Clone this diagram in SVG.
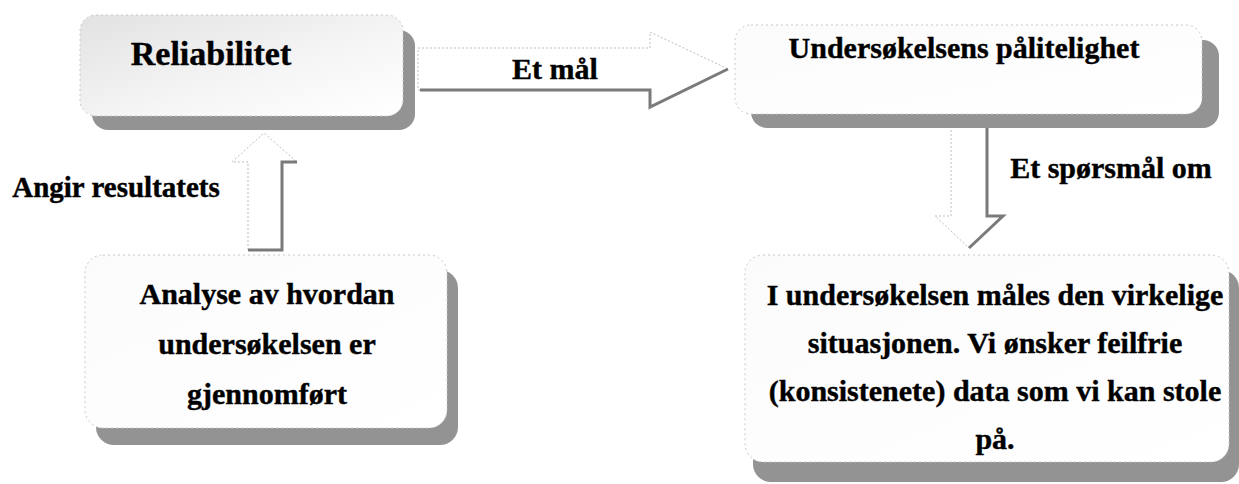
<svg xmlns="http://www.w3.org/2000/svg" width="1239" height="484" viewBox="0 0 1239 484">
<style>
  .t { font-family: "Liberation Serif", "Times New Roman", serif; font-weight: bold; fill: #000; stroke: #000; stroke-width: 0.4; text-anchor: middle; }
  .box { stroke: #c8c8c8; stroke-width: 1; stroke-dasharray: 2 3; }
  .shadow { fill: #939393; }
  .arr { fill: #ffffff; stroke: #bdbdbd; stroke-width: 1; stroke-dasharray: 2 2; }
  .arrsh { fill: none; stroke: #7a7a7a; stroke-width: 3; }
</style>
<defs>
  <linearGradient id="g1" x1="0" y1="0" x2="1" y2="1">
    <stop offset="0" stop-color="#e2e2e2"/>
    <stop offset="0.6" stop-color="#f6f6f6"/>
    <stop offset="1" stop-color="#ffffff"/>
  </linearGradient>
  <linearGradient id="g2" x1="0" y1="0" x2="1" y2="1">
    <stop offset="0" stop-color="#fbfbfb"/>
    <stop offset="1" stop-color="#ffffff"/>
  </linearGradient>
</defs>
<rect width="1239" height="484" fill="#ffffff"/>

<g id="connectors">
  <g id="arrow-et-mal">
    <path class="arr" d="M418,48 H650 V32 L728,69 L650,107 V90 H418 Z"/>
    <path class="arrsh" d="M420,90 H650 V107 L728,69"/>
    <text class="t" x="555" y="79" font-size="30">Et mål</text>
  </g>
  <g id="arrow-angir">
    <path class="arr" d="M248,250 V162 H232 L264,133 L297,162 H282 V250 Z"/>
    <path class="arrsh" d="M248,250 H282 V162 H297"/>
    <text class="t" x="116" y="197" font-size="29">Angir resultatets</text>
  </g>
  <g id="arrow-sporsmal">
    <path class="arr" d="M951,122 V216 H935 L969,248 L1003,216 H987 V122 Z"/>
    <path class="arrsh" d="M987,122 V216 H1003 L969,248"/>
    <text class="t" x="1111" y="178" font-size="30">Et spørsmål om</text>
  </g>
</g>

<g id="node-reliabilitet">
  <rect class="shadow" x="92" y="30" width="323" height="100" rx="16"/>
  <rect class="box" x="80" y="15" width="323" height="101" rx="16" fill="url(#g1)"/>
  <text class="t" x="211" y="65" font-size="34">Reliabilitet</text>
</g>

<g id="node-paalitelighet">
  <rect class="shadow" x="751" y="40" width="468" height="88" rx="16"/>
  <rect class="box" x="735" y="25" width="467" height="89" rx="16" fill="url(#g2)"/>
  <text class="t" x="964" y="58" font-size="30">Undersøkelsens pålitelighet</text>
</g>

<g id="node-analyse">
  <rect class="shadow" x="96" y="270" width="362" height="175" rx="18"/>
  <rect class="box" x="85" y="255" width="362" height="173" rx="18" fill="url(#g2)"/>
  <text class="t" x="267" y="304" font-size="30">Analyse av hvordan</text>
  <text class="t" x="267" y="354" font-size="30">undersøkelsen er</text>
  <text class="t" x="267" y="404" font-size="30">gjennomført</text>
</g>

<g id="node-maales">
  <rect class="shadow" x="753" y="270" width="486" height="212" rx="18"/>
  <rect class="box" x="745" y="255" width="484" height="207" rx="18" fill="url(#g2)"/>
  <text class="t" x="995" y="305" font-size="30">I undersøkelsen måles den virkelige</text>
  <text class="t" x="995" y="353" font-size="30">situasjonen. Vi ønsker feilfrie</text>
  <text class="t" x="995" y="401" font-size="30">(konsistenete) data som vi kan stole</text>
  <text class="t" x="995" y="449" font-size="30">på.</text>
</g>
</svg>
